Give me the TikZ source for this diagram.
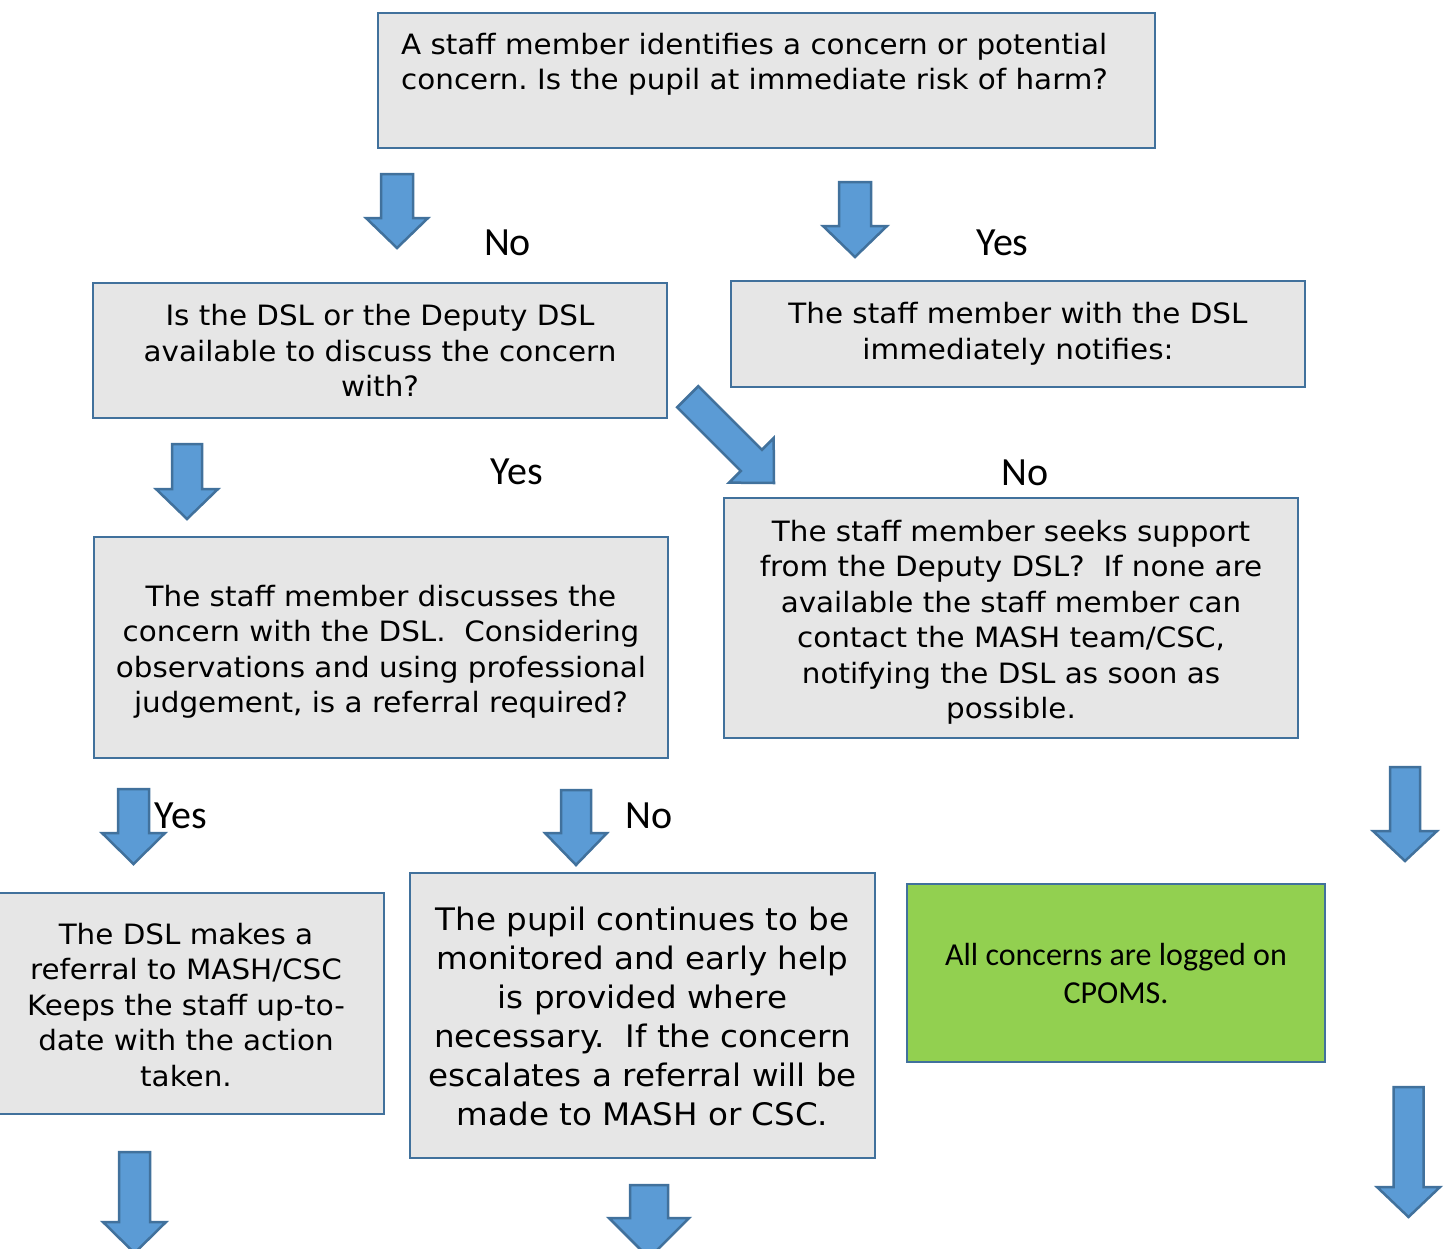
\documentclass[tikz,border=0pt]{standalone}
\usepackage{fontspec}
\setmainfont{DejaVu Sans}[FakeStretch=1.05]
\newfontfamily\labelfont{Carlito}
\definecolor{bordc}{HTML}{41719C}
\definecolor{boxg}{HTML}{E6E6E6}
\definecolor{arrb}{HTML}{5B9BD5}
\definecolor{greenbox}{HTML}{92D050}
\newcommand\tstr{\rule{0pt}{29.5pt}}
\newcommand\bstr{\rule[-6pt]{0pt}{6pt}}
\newcommand\tstrb{\rule{0pt}{32.3pt}}
\newcommand\bstrb{\rule[-6.7pt]{0pt}{6.7pt}}
\newcommand\blkarrow[7]{% tip x, tip y, angle, length, head length, shaft width, head width
  \begin{scope}[shift={(#1,#2)}, rotate=#3]
    \filldraw[arrowshape] (0,0) -- (#7/2,-#5) -- (#6/2,-#5) -- (#6/2,-#4)
      -- (-#6/2,-#4) -- (-#6/2,-#5) -- (-#7/2,-#5) -- cycle;
  \end{scope}}
\begin{document}
\frenchspacing
\begin{tikzpicture}[x=1pt,y=-1pt,
  box/.style={draw=bordc, fill=boxg, line width=2.5pt, inner sep=0pt, align=center,
    font=\fontsize{28}{35.5}\selectfont},
  bigbox/.style={box, font=\fontsize{31}{39}\selectfont},
  gbox/.style={draw=bordc, fill=greenbox, line width=2.5pt, inner sep=0pt, align=center,
    font=\labelfont\fontsize{32}{38}\selectfont},
  arrowshape/.style={draw=bordc, fill=arrb, line width=2.5pt, line join=miter},
  lbl/.style={font=\labelfont\fontsize{40}{48}\selectfont, inner sep=0pt, anchor=base}]
\useasboundingbox (0,0) rectangle (1445,1248);

% boxes
\node[box, minimum width=777pt, minimum height=135pt] (b1) at (766.5,80.5) {};
\node[anchor=north west, align=left, inner sep=0pt, font=\fontsize{28}{35}\selectfont] (t1) at (401,33)
  {A staff member identifies a concern or potential\\concern. Is the pupil at immediate risk of harm?};

\node[box, minimum width=574pt, minimum height=135pt] (b2) at (380,350.5)
  {Is the DSL or the Deputy DSL\\available to discuss the concern\\with?};
\node[box, minimum width=574pt, minimum height=106pt] (b3) at (1018,334)
  {The staff member with the DSL\\immediately notifies:};
\node[box, minimum width=574pt, minimum height=221pt] (b4) at (381,647.5)
  {\tstr The staff member discusses the\\concern with the DSL.\ \ Considering\\observations and using professional\\judgement, is a referral required?\bstr};
\node[box, minimum width=574pt, minimum height=240pt] (b5) at (1011,618)
  {\tstr The staff member seeks support\\from the Deputy DSL?\ \ If none are\\available the staff member can\\contact the MASH team/CSC,\\notifying the DSL as soon as\\possible.\bstr};
\node[box, minimum width=396pt, minimum height=221pt] (b6) at (186,1003.5)
  {\tstr The DSL makes a\\referral to MASH/CSC\\Keeps the staff up-to-\\date with the action\\taken.\bstr};
\node[bigbox, minimum width=465pt, minimum height=285pt] (b7) at (642.5,1015.5)
  {\tstrb The pupil continues to be\\monitored and early help\\is provided where\\necessary.\ \ If the concern\\escalates a referral will be\\made to MASH or CSC.\bstrb};
\node[gbox, minimum width=418pt, minimum height=178pt] (g) at (1116,973)
  {All concerns are logged on\\CPOMS.};

% labels
\node[lbl] (l1) at (507.5,255) {No};
\node[lbl] (l2) at (1002.5,255) {Yes};
\node[lbl] (l3) at (517,484) {Yes};
\node[lbl] (l4) at (1025,485) {No};
\node[lbl] (l5) at (181,828) {Yes};
\node[lbl] (l6) at (649,828) {No};

% block arrows
\blkarrow{397}{248}{0}{74}{30}{32}{62}
\blkarrow{855}{257}{0}{75}{31}{32}{64}
\blkarrow{774}{483}{45}{122}{32}{30}{63}
\blkarrow{187}{519}{0}{75}{30}{30}{62}
\blkarrow{133.5}{864}{0}{75}{31}{31}{63}
\blkarrow{576}{865}{0}{75}{32}{30}{62}
\blkarrow{1405}{861}{0}{94}{30}{30}{64}
\blkarrow{134.5}{1253}{0}{101}{31}{31}{63}
\blkarrow{649}{1258}{0}{73}{40}{38}{80}
\blkarrow{1408.5}{1217}{0}{130}{30}{30}{63}
\end{tikzpicture}
\end{document}
